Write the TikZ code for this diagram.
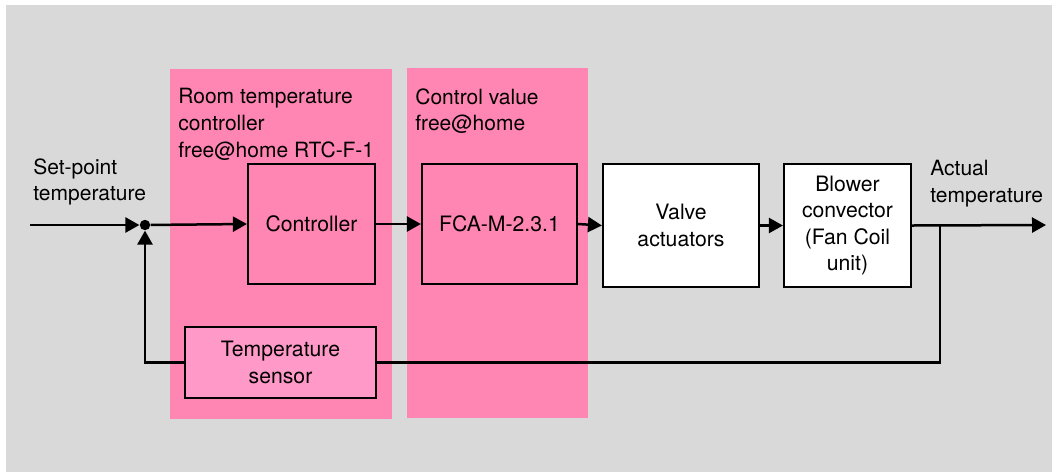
\documentclass[tikz,border=0pt]{standalone}
\usepackage{fontspec}
\setmainfont{TeX Gyre Heros}
\usetikzlibrary{arrows.meta}
\definecolor{bggray}{HTML}{D9D9D9}
\definecolor{panelpink}{HTML}{FF85B3}
\definecolor{sensorpink}{HTML}{FF99C8}
\tikzset{
  px/.style={x=0.5pt,y=-0.5pt},
  panel/.style={fill=panelpink,draw=none},
  blockbox/.style={draw=black,line width=1.1pt,fill=white,align=center,inner sep=0pt,
    font=\fontsize{10.6}{13.2}\selectfont},
  lbl/.style={align=left,inner sep=0pt,anchor=north west,font=\fontsize{10.5}{13.4}\selectfont},
  conn/.style={line width=1.25pt,-{Triangle[length=7pt,width=7.5pt]}},
  line/.style={line width=1.25pt},
}
\begin{document}
\begin{tikzpicture}[px]
\useasboundingbox (0,0) rectangle (1054,472);
\fill[bggray] (6,5) rectangle (1052,472);
% panels
\fill[panel] (170,69) rectangle (392,419);
\fill[panel] (407,68) rectangle (588,418);
% panel labels
\node[lbl] (plabel1) at (178,88) {Room temperature\\controller\\free@home RTC-F-1};
\node[lbl] (plabel2) at (415,88) {Control value\\free@home};
% io labels
\node[lbl] (setpt) at (33,158) {Set-point\\temperature};
\node[lbl] (actual) at (930,160) {Actual\\temperature};
% blocks
\node[blockbox,fill=panelpink,minimum width=63.5pt,minimum height=60pt] (ctrl) at (311.5,224) {Controller};
\node[blockbox,fill=panelpink,minimum width=77.5pt,minimum height=60pt] (fca) at (499.5,224) {FCA-M-2.3.1};
\node[blockbox,minimum width=78pt,minimum height=61.5pt] (valve) at (681,225.5) {Valve\\actuators};
\node[blockbox,minimum width=63.5pt,minimum height=61.5pt] (blower) at (847.5,225.5) {Blower\\convector\\(Fan Coil\\unit)};
\node[blockbox,fill=sensorpink,minimum width=95.5pt,minimum height=35.5pt] (sensor) at (280.5,362.5) {Temperature\\sensor};
% junction
\node[circle,fill=black,inner sep=0pt,minimum size=5.2pt] (junc) at (145,225) {};
\coordinate (in) at (30,225);
\coordinate (out) at (1046,225);
\coordinate (tap) at (940,225);
% connectors
\draw[conn] (in) -- (junc.west);
\draw[conn] (junc) -- (ctrl.west);
\draw[conn] (ctrl.east) -- (fca.west);
\draw[conn] (fca.east) -- (valve.west);
\draw[conn] (valve.east) -- (blower.west);
\draw[conn] (blower.east) -- (out);
\draw[line] (tap) |- (sensor.east);
\draw[conn] (sensor.west) -| (junc.south);
\end{tikzpicture}
\end{document}
